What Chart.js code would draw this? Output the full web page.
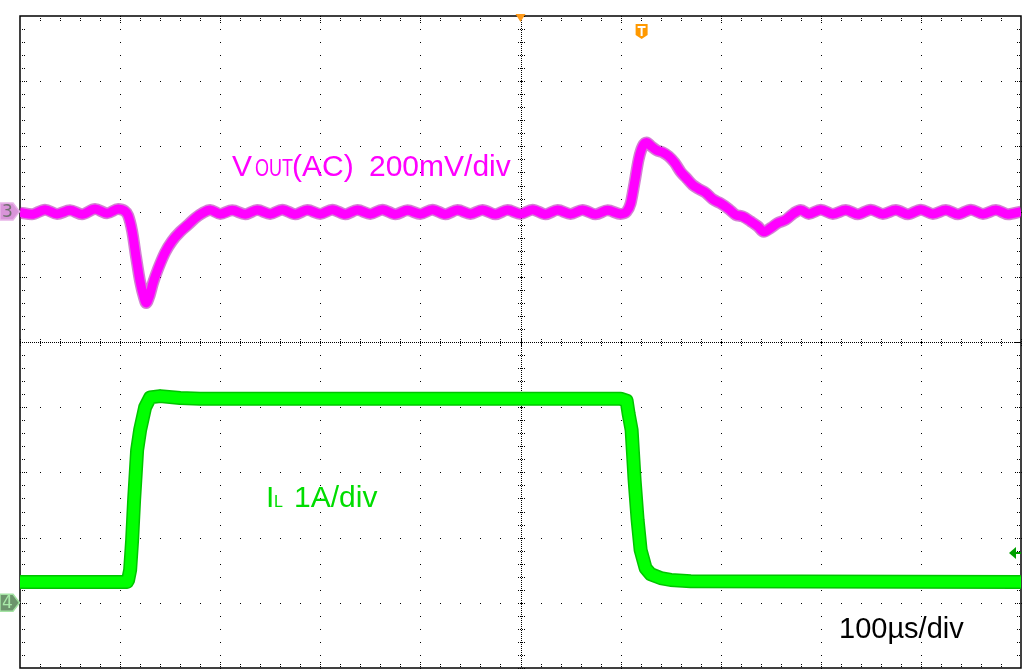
<!DOCTYPE html>
<html>
<head>
<meta charset="utf-8">
<script src="https://cdn.jsdelivr.net/npm/chart.js@4/dist/chart.umd.min.js"></script>
<style>
  html, body { margin: 0; padding: 0; background: #fff; }
  #wrap { width: 1024px; height: 670px; }
</style>
</head>
<body>
<div id="wrap"><canvas id="scope" width="1024" height="670"></canvas></div>
<script>
"use strict";

// time in us, 100us/div, trigger at centre
var vout_time = [
  -500, -488, -475, -463, -450, -438, -425, -413, -402, -396,
  -392, -388, -384, -380, -376, -374, -371, -367, -362, -355,
  -348, -340, -332, -325, -318, -310, -300, -288, -275, -263,
  -250, -238, -225, -213, -200, -188, -175, -163, -150, -138,
  -125, -113, -100, -88, -75, -63, -50, -38, -25, -13,
  0, 12, 25, 37, 50, 62, 75, 87, 100, 106,
  110, 114, 118, 122, 126, 130, 136, 142, 148, 154,
  160, 166, 172, 178, 185, 192, 200, 208, 215, 222,
  230, 237, 243, 250, 257, 265, 273, 280, 288, 300,
  312, 325, 337, 350, 362, 375, 387, 400, 412, 425,
  437, 450, 462, 475, 487, 500
];
// VOUT (AC) in mV, 200mV/div
var vout_mv = [
  -3, -8, 6, -7, 4, -8, 8, -5, 8, 3,
  -12, -60, -140, -215, -265, -280, -262, -218, -175, -125,
  -90, -62, -40, -20, -5, 5, -7, 4, -8, 5,
  -7, 6, -8, 5, -7, 6, -8, 5, -7, 6,
  -8, 4, -7, 6, -8, 5, -7, 5, -8, 5,
  -7, 6, -8, 5, -7, 5, -8, 4, -7, 0,
  25, 90, 160, 200, 212, 202, 188, 182, 170, 150,
  122, 102, 82, 70, 58, 38, 25, 8, -10, -15,
  -30, -45, -62, -50, -35, -25, -5, 5, -7, 6,
  -7, 5, -8, 6, -7, 5, -8, 6, -7, 5,
  -8, 6, -7, 5, -8, 0
];

var il_time = [
  -500, -393, -392, -390, -388, -386, -383, -380, -375, -370,
  -360, -340, -320, 100, 106, 108, 111, 114, 117, 120,
  125, 130, 140, 150, 170, 500
];
// inductor current in A, 1A/div
var il_amp = [
  0.32, 0.32, 0.35, 0.50, 0.96, 1.58, 2.34, 2.65, 3.00, 3.15,
  3.17, 3.14, 3.13, 3.13, 3.10, 2.90, 2.65, 1.88, 1.27, 0.81,
  0.53, 0.44, 0.38, 0.35, 0.33, 0.32
];

var magenta = "#ff00ff";
var green = "#00dd00";
var label_font = "'Liberation Sans', Arial, sans-serif";

function points(xs, ys) {
    return xs.map(function(t, i) { return { x: t, y: ys[i] }; });
}

var graticule = {
    id: "graticule",
    beforeDatasetsDraw: function(chart) {
        var ctx = chart.ctx;
        var a = chart.chartArea;
        var xs = chart.scales.x;
        var yi = chart.scales.yi;
        var dot = function(x, y) { ctx.fillRect(Math.round(x), Math.round(y), 1, 1); };
        var xAt = function(d) { return xs.getPixelForValue(-500 + d * 100); };
        var yAt = function(d) { return yi.getPixelForValue(9 - d); };

        ctx.save();
        ctx.fillStyle = "#000";

        // dotted division lines
        for (var d = 1; d < 10; d++) {
            if (d === 5) continue;
            for (var m = 0; m <= 50; m++) {
                dot(xAt(d), yAt(m / 5));
                dot(xAt(m / 5), yAt(d));
            }
        }

        // centre cross
        var cx = xAt(5), cy = yAt(5);
        for (var y = a.top; y < a.bottom; y += 2) dot(cx, y);
        for (var x = a.left; x < a.right; x += 2) dot(x, cy);
        for (var m = 0; m <= 50; m++) {
            var py = yAt(m / 5), px = xAt(m / 5);
            for (var k = -3; k <= 3; k += 2) {
                dot(cx + k, py);
                dot(px, cy + k);
            }
        }

        // border ticks
        for (var m = 1; m < 50; m++) {
            var n = (m % 5 === 0) ? 3 : 2;
            var px = xAt(m / 5), py = yAt(m / 5);
            for (var k = 1; k <= n; k++) {
                dot(px, a.top + 2 * k);
                dot(px, a.bottom - 2 * k);
                dot(a.left + 2 * k, py);
                dot(a.right - 2 * k, py);
            }
        }

        ctx.strokeStyle = "#000";
        ctx.lineWidth = 1.5;
        ctx.strokeRect(a.left, a.top, a.right - a.left, a.bottom - a.top);
        ctx.restore();
    },
    afterDatasetsDraw: function(chart) {
        var ctx = chart.ctx;
        var a = chart.chartArea;
        var xs = chart.scales.x;
        var yv = chart.scales.yv;
        var yi = chart.scales.yi;
        ctx.save();

        // labels
        ctx.textBaseline = "alphabetic";
        ctx.textAlign = "left";
        ctx.fillStyle = magenta;
        ctx.font = "30px " + label_font;
        ctx.fillText("V", 232, 176);
        ctx.save();
        ctx.translate(255, 176);
        ctx.scale(1, 1.3);
        ctx.font = "18px " + label_font;
        ctx.fillText("OUT", 0, 0);
        ctx.restore();
        ctx.fillText("(AC)", 292, 176);
        ctx.fillText("200mV/div", 369, 176);

        ctx.fillStyle = green;
        ctx.fillText("I", 266, 507);
        ctx.font = "16px " + label_font;
        ctx.fillText("L", 274, 507);
        ctx.font = "30px " + label_font;
        ctx.fillText("1A/div", 294, 507);

        ctx.fillStyle = "#000";
        ctx.font = "29px " + label_font;
        ctx.fillText("100\u00b5s/div", 839, 638);

        // channel ground markers
        function marker(y, fill, edge, textColor, label) {
            ctx.beginPath();
            ctx.moveTo(0, y - 8.5);
            ctx.lineTo(13, y - 8.5);
            ctx.lineTo(19.5, y);
            ctx.lineTo(13, y + 8.5);
            ctx.lineTo(0, y + 8.5);
            ctx.closePath();
            ctx.fillStyle = fill;
            ctx.fill();
            ctx.strokeStyle = edge;
            ctx.lineWidth = 1.5;
            ctx.stroke();
            ctx.fillStyle = textColor;
            ctx.font = "17px 'DejaVu Sans', sans-serif";
            ctx.textAlign = "center";
            ctx.textBaseline = "middle";
            ctx.fillText(label, 7.5, y + 1);
            ctx.textAlign = "left";
            ctx.textBaseline = "alphabetic";
        }
        marker(yv.getPixelForValue(0), "#d994d9", "#e8b4e8", "#707070", "3");
        marker(yi.getPixelForValue(0), "#6c946c", "#a3e3a3", "#a8eaa8", "4");

        // trigger position and trigger marker
        var cx = xs.getPixelForValue(0);
        ctx.fillStyle = "#ff9a1a";
        ctx.beginPath();
        ctx.moveTo(cx - 5, a.top - 2);
        ctx.lineTo(cx + 5, a.top - 2);
        ctx.lineTo(cx, a.top + 6);
        ctx.closePath();
        ctx.fill();

        var tx = xs.getPixelForValue(121);
        ctx.fillStyle = "#ff9900";
        ctx.beginPath();
        ctx.moveTo(tx - 6, 24);
        ctx.lineTo(tx + 6, 24);
        ctx.lineTo(tx + 6, 35);
        ctx.lineTo(tx, 39);
        ctx.lineTo(tx - 6, 35);
        ctx.closePath();
        ctx.fill();
        ctx.fillStyle = "#fff";
        ctx.fillRect(tx - 4, 26, 8, 2);
        ctx.fillRect(tx - 1, 26, 2, 10);

        // trigger level arrow on the right edge
        ctx.fillStyle = "#00a000";
        ctx.beginPath();
        ctx.moveTo(1009, 553);
        ctx.lineTo(1016, 547);
        ctx.lineTo(1016, 559);
        ctx.closePath();
        ctx.fill();
        ctx.fillRect(1015, 552, 6, 2);

        ctx.restore();
    }
};

var vout_data = points(vout_time, vout_mv);
var il_data = points(il_time, il_amp);

var chart = new Chart(document.getElementById("scope").getContext("2d"), {
    type: "line",
    data: {
        datasets: [
            {
                label: "VOUT",
                data: vout_data,
                yAxisID: "yv",
                borderColor: magenta,
                borderWidth: 9,
                cubicInterpolationMode: "monotone",
                pointRadius: 0,
                order: 0
            },
            {
                label: "VOUT edge",
                data: vout_data,
                yAxisID: "yv",
                borderColor: "rgba(170, 0, 170, 0.5)",
                borderWidth: 12,
                cubicInterpolationMode: "monotone",
                pointRadius: 0,
                order: 1
            },
            {
                label: "IL",
                data: il_data,
                yAxisID: "yi",
                borderColor: "#00ff00",
                borderWidth: 11,
                tension: 0,
                borderJoinStyle: "round",
                pointRadius: 0,
                order: 2
            },
            {
                label: "IL edge",
                data: il_data,
                yAxisID: "yi",
                borderColor: "#00c400",
                borderWidth: 14,
                tension: 0,
                borderJoinStyle: "round",
                pointRadius: 0,
                order: 3
            }
        ]
    },
    options: {
        responsive: false,
        animation: false,
        devicePixelRatio: 1,
        layout: { padding: { left: 20, right: 3, top: 16, bottom: 2 } },
        plugins: { legend: { display: false }, tooltip: { enabled: false } },
        scales: {
            x: { type: "linear", min: -500, max: 500, display: false },
            yv: { type: "linear", min: -1400, max: 600, display: false },
            yi: { type: "linear", min: -1, max: 9, display: false }
        }
    },
    plugins: [graticule]
});
</script>
</body>
</html>
